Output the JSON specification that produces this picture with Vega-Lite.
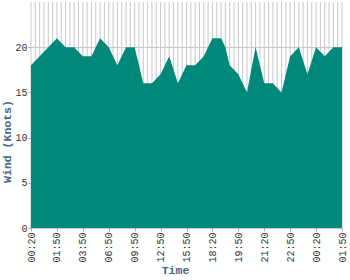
{
  "$schema": "https://vega.github.io/schema/vega-lite/v6.json",
  "width": 311,
  "height": 226,
  "autosize": "none",
  "padding": {"left": 31, "top": 2, "right": 8, "bottom": 52},
  "background": "white",
  "config": {"view": {"stroke": null}, "font": "Liberation Mono"},
  "data": {"values": [
    {"i": 0, "wind": 18}, {"i": 1, "wind": 18.5}, {"i": 2, "wind": 19}, {"i": 3, "wind": 19.5},
    {"i": 4, "wind": 20}, {"i": 5, "wind": 20.5}, {"i": 6, "wind": 21}, {"i": 7, "wind": 20.5},
    {"i": 8, "wind": 20}, {"i": 9, "wind": 20}, {"i": 10, "wind": 20}, {"i": 11, "wind": 19.5},
    {"i": 12, "wind": 19}, {"i": 13, "wind": 19}, {"i": 14, "wind": 19}, {"i": 15, "wind": 20},
    {"i": 16, "wind": 21}, {"i": 17, "wind": 20.5}, {"i": 18, "wind": 20}, {"i": 19, "wind": 19},
    {"i": 20, "wind": 18}, {"i": 21, "wind": 19}, {"i": 22, "wind": 20}, {"i": 23, "wind": 20},
    {"i": 24, "wind": 20}, {"i": 25, "wind": 18}, {"i": 26, "wind": 16}, {"i": 27, "wind": 16},
    {"i": 28, "wind": 16}, {"i": 29, "wind": 16.5}, {"i": 30, "wind": 17}, {"i": 31, "wind": 18},
    {"i": 32, "wind": 19}, {"i": 33, "wind": 17.5}, {"i": 34, "wind": 16}, {"i": 35, "wind": 17},
    {"i": 36, "wind": 18}, {"i": 37, "wind": 18}, {"i": 38, "wind": 18}, {"i": 39, "wind": 18.5},
    {"i": 40, "wind": 19}, {"i": 41, "wind": 20}, {"i": 42, "wind": 21}, {"i": 43, "wind": 21},
    {"i": 44, "wind": 21}, {"i": 45, "wind": 20}, {"i": 46, "wind": 18}, {"i": 47, "wind": 17.5},
    {"i": 48, "wind": 17}, {"i": 49, "wind": 16}, {"i": 50, "wind": 15}, {"i": 51, "wind": 17.5},
    {"i": 52, "wind": 20}, {"i": 53, "wind": 18}, {"i": 54, "wind": 16}, {"i": 55, "wind": 16},
    {"i": 56, "wind": 16}, {"i": 57, "wind": 15.5}, {"i": 58, "wind": 15}, {"i": 59, "wind": 17},
    {"i": 60, "wind": 19}, {"i": 61, "wind": 19.5}, {"i": 62, "wind": 20}, {"i": 63, "wind": 18.5},
    {"i": 64, "wind": 17}, {"i": 65, "wind": 18.5}, {"i": 66, "wind": 20}, {"i": 67, "wind": 19.5},
    {"i": 68, "wind": 19}, {"i": 69, "wind": 19.5}, {"i": 70, "wind": 20}, {"i": 71, "wind": 20},
    {"i": 72, "wind": 20}
  ]},
  "encoding": {
    "x": {
      "field": "i",
      "type": "quantitative",
      "scale": {"domain": [0, 72], "nice": false, "zero": false},
      "axis": {
        "title": "Time",
        "values": [0, 6, 12, 18, 24, 30, 36, 42, 48, 54, 60, 66, 72],
        "labelExpr": "['00:20','01:50','03:50','06:50','09:50','12:50','15:50','18:20','19:50','21:20','22:50','00:20','01:50'][round(datum.value/6)]",
        "labelAngle": 270,
        "labelFontSize": 10,
        "labelColor": "#333333",
        "labelPadding": 1,
        "labelFlush": false,
        "labelOverlap": false,
        "tickSize": 3,
        "tickColor": "#aaaaaa",
        "domain": false,
        "grid": false,
        "titleFontSize": 11.5,
        "titleFontWeight": "bold",
        "titleColor": "#46648c",
        "titleX": 144,
        "titleY": 36,
        "titleAlign": "center",
        "titleBaseline": "top",
        "titleAnchor": null
      }
    }
  },
  "layer": [
    {
      "mark": {"type": "rule", "color": "#c8c8c8", "strokeWidth": 1},
      "encoding": {}
    },
    {
      "mark": {"type": "area", "color": "#00897b", "opacity": 1, "interpolate": "linear"},
      "encoding": {
        "y": {
          "field": "wind",
          "type": "quantitative",
          "scale": {"domain": [0, 25], "nice": false},
          "axis": {
            "title": "Wind (Knots)",
            "values": [0, 5, 10, 15, 20],
            "labelFontSize": 10,
            "labelColor": "#333333",
            "labelPadding": 1,
            "tickSize": 3,
            "tickColor": "#aaaaaa",
            "domain": false,
            "grid": true,
            "gridColor": "#c8c8c8",
            "gridWidth": 1,
            "titleFontSize": 11.5,
            "titleFontWeight": "bold",
            "titleColor": "#46648c",
            "titleAngle": 270,
            "titleX": -24,
            "titleY": 139,
            "titleAlign": "center",
            "titleBaseline": "middle"
          }
        }
      }
    }
  ]
}
